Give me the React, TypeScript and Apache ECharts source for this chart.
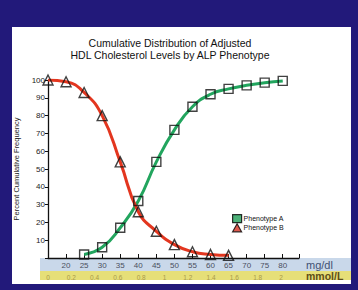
import React, { useEffect, useRef } from "react";
import * as echarts from "echarts";

const titleLines = ["Cumulative Distribution of Adjusted", "HDL Cholesterol Levels by ALP Phenotype"];
const yAxisName = "Percent Cumulative Frequency";
const phenoAName = "Phenotype A";
const phenoBName = "Phenotype B";
const phenoAX = [25, 30, 35, 40, 45, 50, 55, 60, 65, 70, 75, 80];
const phenoAY = [2, 6, 17, 32, 54, 72, 85, 92, 95, 97, 98.5, 99.5];
const phenoBX = [15, 20, 25, 30, 35, 40, 45, 50, 55, 60, 65];
const phenoBY = [100, 99, 93, 80, 54, 26, 15, 7.5, 3.5, 2, 1.5];
const mgUnit = "mg/dl";
const mmolUnit = "mmol/L";

const FONT = "Liberation Sans, Arial, sans-serif";

export default function App() {
  const ref = useRef<HTMLDivElement>(null);
  useEffect(() => {
    document.body.style.margin = "0";
    const chart = echarts.init(ref.current!, null, { renderer: "svg" });
    const aData = phenoAX.map((x, i) => [x, phenoAY[i]]);
    const bData = phenoBX.map((x, i) => [x, phenoBY[i]]);
    chart.setOption({
      animation: false,
      backgroundColor: "#22197a",
      textStyle: { fontFamily: FONT },
      title: {
        text: titleLines.join("\n"),
        left: 165,
        top: 32,
        textAlign: "center",
        textStyle: { fontSize: 10.5, fontWeight: "normal", color: "#111", lineHeight: 12, fontFamily: FONT },
      },
      graphic: [
        { type: "rect", z: -10, shape: { x: 12, y: 27, width: 339, height: 257 }, style: { fill: "#ffffff" } },
        { type: "rect", z: -9, shape: { x: 40, y: 258, width: 311, height: 13 }, style: { fill: "#c9d8ea" } },
        { type: "rect", z: -9, shape: { x: 40, y: 271, width: 311, height: 9 }, style: { fill: "#e6df78" } },
        {
          type: "text", x: 306, y: 264.5,
          style: { text: mgUnit, fontSize: 11, fill: "#3f5173", fontFamily: FONT, verticalAlign: "middle" },
        },
        {
          type: "text", x: 306, y: 276,
          style: { text: mmolUnit, fontSize: 10.5, fontWeight: "bold", fill: "#5e4d16", fontFamily: FONT, verticalAlign: "middle" },
        },
      ],
      legend: {
        orient: "vertical",
        left: 227,
        top: 209,
        itemWidth: 9,
        itemHeight: 8,
        itemGap: 0,
        textStyle: { fontSize: 7, color: "#111", padding: [0, 0, 0, -3] },
        data: [
          { name: phenoAName, icon: "rect", itemStyle: { color: "#1f9e56", borderColor: "#000", borderWidth: 1.2 } },
          { name: phenoBName, icon: "triangle", itemStyle: { color: "#d63020", borderColor: "#000", borderWidth: 1.2 } },
        ],
      },
      grid: { left: 48, right: 59, top: 80, bottom: 32 },
      xAxis: [
        {
          type: "value",
          min: 15,
          max: 84.5,
          interval: 5,
          axisLine: { lineStyle: { color: "#111", width: 1.3 } },
          axisTick: { inside: true, length: 4, lineStyle: { color: "#111" } },
          splitLine: { show: false },
          axisLabel: {
            fontSize: 8,
            color: "#4a4f60",
            margin: 3,
            formatter: (v: number) => (v < 20 || v > 80 ? "" : String(v)),
          },
        },
        {
          type: "value",
          position: "bottom",
          offset: 13,
          min: 0,
          max: 2.155,
          interval: 0.2,
          axisLine: { show: false },
          axisTick: { show: false },
          splitLine: { show: false },
          axisLabel: {
            fontSize: 6.5,
            color: "#a8994a",
            margin: 3,
            showMaxLabel: false,
            formatter: (v: number) => (v > 2.01 ? "" : String(+v.toFixed(1))),
          },
        },
      ],
      yAxis: {
        type: "value",
        min: 0,
        max: 100,
        interval: 10,
        name: yAxisName,
        nameLocation: "middle",
        nameGap: 21,
        nameTextStyle: { fontSize: 7.5, color: "#222" },
        axisLine: { show: true, lineStyle: { color: "#111", width: 1.3 } },
        axisTick: { show: true, length: 3, lineStyle: { color: "#111" } },
        splitLine: { show: false },
        axisLabel: {
          fontSize: 8,
          color: "#222",
          margin: 3,
          formatter: (v: number) => (v === 0 ? "" : String(v)),
        },
      },
      series: [
        {
          name: "A curve",
          type: "line",
          data: aData,
          smooth: 0.5,
          showSymbol: false,
          symbol: "none",
          lineStyle: { color: "#22a55e", width: 3 },
          z: 2,
        },
        {
          name: "B curve",
          type: "line",
          data: bData,
          smooth: 0.5,
          showSymbol: false,
          symbol: "none",
          lineStyle: { color: "#e3361f", width: 3 },
          z: 2,
        },
        {
          name: phenoAName,
          type: "scatter",
          data: aData,
          symbol: "rect",
          symbolSize: 9,
          itemStyle: { color: "rgba(0,0,0,0)", borderColor: "#111", borderWidth: 1.4 },
          z: 3,
        },
        {
          name: phenoBName,
          type: "scatter",
          data: bData,
          symbol: "triangle",
          symbolSize: 10,
          itemStyle: { color: "rgba(0,0,0,0)", borderColor: "#111", borderWidth: 1.4 },
          z: 3,
        },
      ],
    });
    return () => chart.dispose();
  }, []);
  return <div ref={ref} style={{ position: "fixed", left: 0, top: 0, width: 358, height: 290 }} />;
}
